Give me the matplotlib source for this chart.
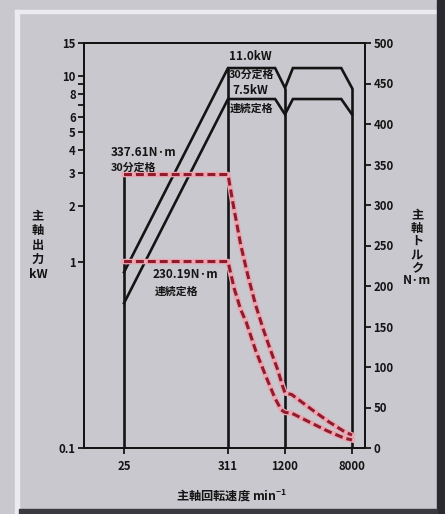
"""Spindle output / torque chart (power on log axis, torque on right axis)."""
import matplotlib
matplotlib.use("Agg")
import matplotlib.pyplot as plt
from matplotlib.patches import Rectangle
from matplotlib.ticker import NullLocator
import numpy as np

plt.rcParams["font.family"] = ["Noto Sans CJK JP", "DejaVu Sans"]

# speed ticks (min^-1)
SPEED_TICKS = [25, 311, 1200, 8000]

# output (kW)
SPEED_P = [25, 311, 950, 1200, 1500, 5900, 8000]
POWER_30MIN = [0.88, 11.0, 11.0, 8.6, 11.0, 11.0, 8.6]
POWER_CONT = [0.60, 7.5, 7.5, 6.2, 7.5, 7.5, 6.2]

# torque (N·m)
SPEED_T30 = [25, 311, 350, 420, 500, 600, 720, 850, 1000, 1130, 1200,
             1450, 2600, 4200, 6500, 8000]
TORQUE_30MIN = [337.61, 337.61, 302, 251, 212, 176, 146, 121, 98, 77, 68,
                66, 47, 32, 20, 16]
SPEED_TC = [25, 311, 360, 420, 480, 600, 760, 950, 1100, 1200,
            1450, 2400, 4000, 6500, 8000]
TORQUE_CONT = [230.19, 230.19, 197, 171, 155, 120, 89, 61, 47, 44,
               43, 32, 21, 12, 10]

# box outlines: tops of the vertical lines
VLINE_TOP_KW = [11.0, 8.6, 8.6]  # at 311, 1200, 8000
VLINE_TOP_NM = 337.61            # at 25

Y_TICKS_KW = [0.1, 1, 2, 3, 4, 5, 6, 7, 8, 9, 10, 15]
Y_LABELS_KW = ["0.1", "1", "2", "3", "4", "5", "6", "", "8", "", "10", "15"]
Y_TICKS_NM = list(range(0, 501, 50))

# the printed speed axis is only roughly logarithmic: piecewise log scale
_LOG_ANCH = np.array([0.5, np.log10(25), np.log10(311), np.log10(1200),
                      np.log10(8000), 4.5])
_POS_ANCH = np.array([38.7, 124, 228, 285, 352, 400.5])


def _fwd(x):
    return np.interp(np.log10(np.clip(x, 1e-3, None)), _LOG_ANCH, _POS_ANCH)


def _inv(u):
    return 10 ** np.interp(u, _POS_ANCH, _LOG_ANCH)


W, H = 445, 514
BG = "#c9c8cf"
INK = "#141414"
fig = plt.figure(figsize=(W / 100, H / 100), dpi=100, facecolor=BG)


def px(x, y):
    return x / W, 1 - y / H


# photo frame
fig.patches.append(Rectangle(px(15, 514), 4 / W, 504 / H, transform=fig.transFigure,
                             color="#ececf0", zorder=0))
fig.patches.append(Rectangle(px(15, 13), 422 / W, 3 / H, transform=fig.transFigure,
                             color="#ececf0", zorder=0))
fig.patches.append(Rectangle(px(437, 514), 8 / W, 1, transform=fig.transFigure,
                             color="#2b2a30", zorder=0))
fig.patches.append(Rectangle(px(19, 514), 418 / W, 5 / H, transform=fig.transFigure,
                             color="#3a393f", zorder=0))

left, right, top, bottom = 84, 365, 43, 448
ax1 = fig.add_axes([left / W, 1 - bottom / H, (right - left) / W, (bottom - top) / H])
ax1.set_facecolor("none")
ax2 = ax1.twinx()

ax1.set_xscale("function", functions=(_fwd, _inv))
ax1.set_xlim(_inv(left), _inv(right))
ax1.set_yscale("log")
ax1.set_ylim(0.1, 15)
ax2.set_ylim(0, 500)

lw = 1.9
ax1.plot(SPEED_P, POWER_30MIN, color=INK, lw=lw, solid_joinstyle="miter")
ax1.plot(SPEED_P, POWER_CONT, color=INK, lw=lw, solid_joinstyle="miter")
ax1.vlines(SPEED_TICKS[1:], 0.1, VLINE_TOP_KW, color=INK, lw=lw)
ax2.vlines(SPEED_TICKS[0], 0, VLINE_TOP_NM, color=INK, lw=lw)

for s, t in [(SPEED_T30, TORQUE_30MIN), (SPEED_TC, TORQUE_CONT)]:
    ax2.plot(s, t, color="#eaa7b2", lw=4.0, solid_joinstyle="round")
    ax2.plot(s, t, color="#8f1b2c", lw=2.2, dashes=(2.6, 1.3))

# axes styling
for ax in (ax1, ax2):
    for sp in ax.spines.values():
        sp.set_linewidth(1.4)
        sp.set_color(INK)
tick_kw = dict(direction="out", length=4, width=1.3, colors=INK, labelsize=8.2)
ax1.set_xticks(SPEED_TICKS)
ax1.set_xticklabels([str(v) for v in SPEED_TICKS], fontweight="bold")
ax1.xaxis.set_minor_locator(NullLocator())
ax1.set_yticks(Y_TICKS_KW)
ax1.set_yticklabels(Y_LABELS_KW, fontweight="bold")
ax1.yaxis.set_minor_locator(NullLocator())
ax1.tick_params(axis="both", pad=2, **tick_kw)
ax1.tick_params(axis="x", pad=5)
ax2.set_yticks(Y_TICKS_NM)
ax2.set_yticklabels([str(v) for v in Y_TICKS_NM], fontweight="bold")
ax2.tick_params(axis="y", pad=2, **tick_kw)

# annotations
tkw = dict(fontsize=8.5, fontweight="bold", color=INK, va="center", ha="left")
jkw = dict(tkw, fontsize=7.8)
fig.text(*px(229, 56), "11.0kW", **tkw)
fig.text(*px(229, 75), "30分定格", **jkw)
fig.text(*px(232, 91), "7.5kW", **tkw)
fig.text(*px(230, 109), "連続定格", **jkw)
fig.text(*px(111, 153), "337.61N·m", **tkw)
fig.text(*px(111, 168), "30分定格", **jkw)
fig.text(*px(153, 274), "230.19N·m", **tkw)
fig.text(*px(155, 292), "連続定格", **jkw)

lkw = dict(fontsize=8.8, fontweight="bold", color=INK, ha="center",
           va="center", linespacing=1.15)
fig.text(*px(38, 245), "主\n軸\n出\n力\nkW", **lkw)
fig.text(*px(417, 248), "主\n軸\nト\nル\nク\nN·m", **dict(lkw, linespacing=1.0))
fig.text(*px(232, 495), "主軸回転速度 min$^{\\mathregular{-1}}$", fontsize=8.8,
         fontweight="bold", color=INK, ha="center", va="center")

fig.savefig("out.png", dpi=100, facecolor=BG)
